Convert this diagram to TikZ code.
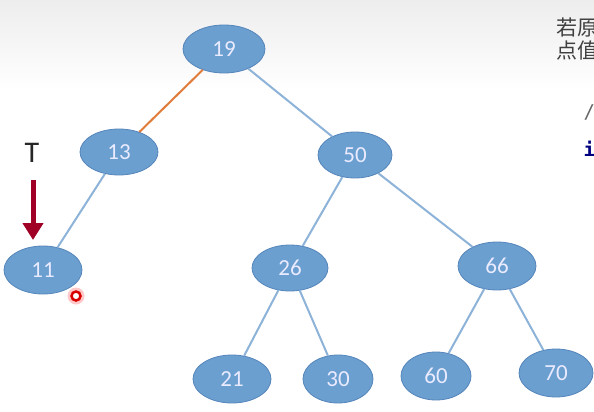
\documentclass[tikz,border=0pt]{standalone}
\usepackage{fontspec}
\setmainfont{Carlito}
\newfontfamily\cjk{Noto Sans CJK SC}
\newfontfamily\monof{DejaVu Sans Mono}
\usetikzlibrary{shapes.geometric,arrows.meta}
\definecolor{nodefill}{HTML}{6A9FD0}
\definecolor{nodeline}{HTML}{5585BA}
\definecolor{edgeblue}{HTML}{8DB3D9}
\definecolor{edgeorange}{HTML}{E07B39}
\definecolor{arrowred}{HTML}{A00025}
\tikzset{
  tn/.style={ellipse, draw=nodeline, line width=0.8pt, fill=nodefill, text=white!92!blue,
    inner sep=0pt, font=\fontsize{23}{23}\selectfont},
  be/.style={draw=edgeblue, line width=2pt},
  oe/.style={draw=edgeorange, line width=2pt},
}
\begin{document}
\begin{tikzpicture}[x=1pt,y=-1pt]
\useasboundingbox (0,0) rectangle (594,412);
\clip (0,0) rectangle (594,412);
\shade[top color=black!7, bottom color=white] (0,0) rectangle (594,90);
\fill[white] (0,90) rectangle (594,412);
% nodes
\node[tn, minimum width=82pt, minimum height=48pt] (n19) at (224,49) {19};
\node[tn, minimum width=78pt, minimum height=46pt] (n13) at (119,152) {13};
\node[tn, minimum width=74pt, minimum height=46pt] (n50) at (355,155) {50};
\node[tn, minimum width=78pt, minimum height=48pt] (n11) at (43,270) {11};
\node[tn, minimum width=76pt, minimum height=46pt] (n26) at (290,268) {26};
\node[tn, minimum width=78pt, minimum height=48pt] (n66) at (497,266) {66};
\node[tn, minimum width=78pt, minimum height=48pt] (n21) at (232,379) {21};
\node[tn, minimum width=70pt, minimum height=48pt] (n30) at (338,379) {30};
\node[tn, minimum width=70pt, minimum height=48pt] (n60) at (436,376) {60};
\node[tn, minimum width=74pt, minimum height=48pt] (n70) at (556,373) {70};
% edges
\draw[oe] (n19) -- (n13);
\draw[be] (n19) -- (n50);
\draw[be] (n13) -- (n11);
\draw[be] (n50) -- (n26);
\draw[be] (n50) -- (n66);
\draw[be] (n26) -- (n21);
\draw[be] (n26) -- (n30);
\draw[be] (n66) -- (n60);
\draw[be] (n66) -- (n70);
% T pointer
\node[font=\fontsize{30}{30}\selectfont, text=black!85] (T) at (32,153) {T};
\coordinate (tip) at (33,240);
\draw[arrowred, line width=5pt, -{Triangle[length=17pt,width=20pt]}] (33,180) -- (tip);
% red marker
\node[circle, fill=red!60, opacity=0.35, minimum size=17pt, inner sep=0pt] (glow) at (76,296) {};
\node[circle, draw=red!85!black, line width=2.5pt, fill=white, minimum size=9pt, inner sep=0pt] (dot) at (76,296) {};
% cropped text at right
\node[anchor=west, text=black!75, font=\cjk\fontsize{21}{21}\selectfont] (t1) at (553,28) {若原};
\node[anchor=west, text=black!75, font=\cjk\fontsize{21}{21}\selectfont] (t2) at (553,51) {点值};
\node[anchor=west, text=black!60, font=\monof\fontsize{19}{19}\selectfont] (t3) at (580,112) {//};
\node[anchor=west, text=blue!50!black, font=\monof\bfseries\fontsize{19}{19}\selectfont] (t4) at (580,149) {if};
\end{tikzpicture}
\end{document}
